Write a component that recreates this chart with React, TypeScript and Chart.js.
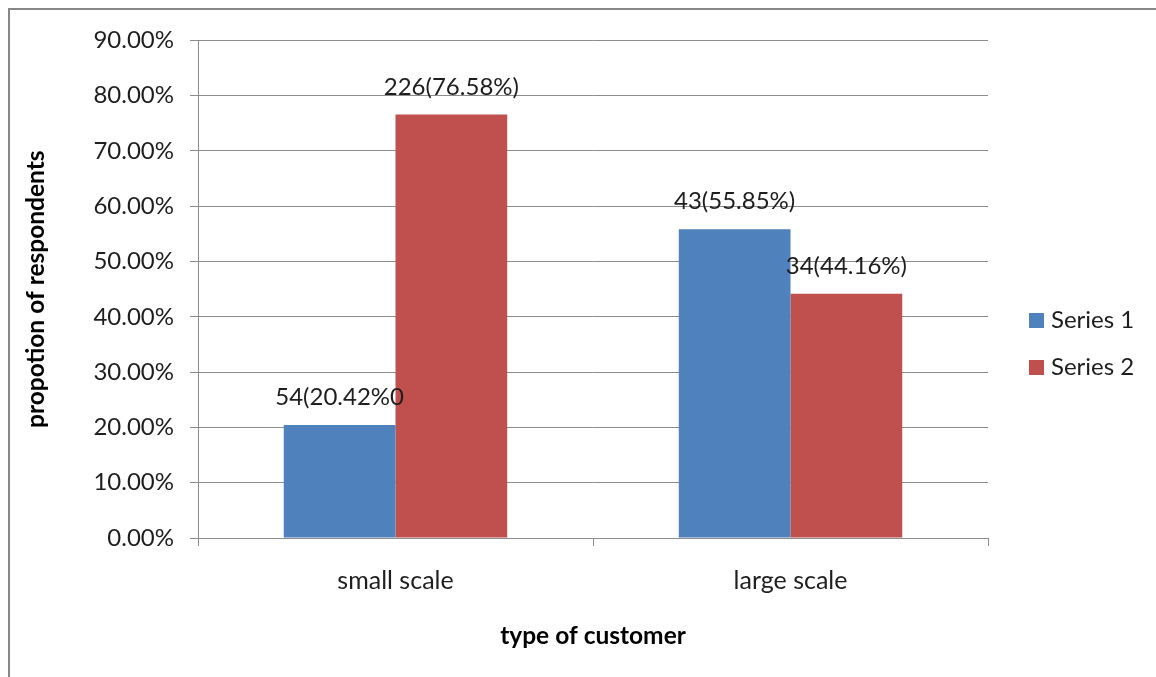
import React, { useEffect, useRef } from "react";
import { Chart, registerables } from "chart.js";

Chart.register(...registerables);

const categories = ["small scale", "large scale"];
const seriesNames = ["Series 1", "Series 2"];
const series1 = [20.42, 55.85];
const series2 = [76.58, 44.16];
const labels1 = ["54(20.42%0", "43(55.85%)"];
const labels2 = ["226(76.58%)", "34(44.16%)"];
const yMin = 0;
const yMax = 90;
const yStep = 10;
const xTitle = "type of customer";
const yTitle = "propotion of respondents";

const FONT = "Lato";
const TEXT = "#1e1e1e";
const GRID = "#8c8c8c";

const dataLabelPlugin = {
  id: "dataLabels",
  afterDatasetsDraw(chart: any) {
    const ctx = chart.ctx;
    const all = [labels1, labels2];
    ctx.save();
    ctx.font = `24px ${FONT}`;
    ctx.fillStyle = TEXT;
    ctx.textAlign = "center";
    ctx.textBaseline = "middle";
    chart.data.datasets.forEach((ds: any, di: number) => {
      const meta = chart.getDatasetMeta(di);
      meta.data.forEach((bar: any, i: number) => {
        ctx.fillText(all[di][i], bar.x, bar.y - 27.5);
      });
    });
    ctx.restore();
  },
};

const legendPlugin = {
  id: "customLegend",
  afterDraw(chart: any) {
    const ctx = chart.ctx;
    const ca = chart.chartArea;
    const x0 = ca.right + 41;
    const cy = chart.height / 2;
    const gap = 47;
    ctx.save();
    ctx.font = `24px ${FONT}`;
    ctx.textAlign = "left";
    ctx.textBaseline = "middle";
    chart.data.datasets.forEach((ds: any, i: number) => {
      const y = cy - gap / 2 + i * gap;
      ctx.fillStyle = ds.backgroundColor;
      ctx.fillRect(x0, y - 7, 15, 15);
      ctx.fillStyle = TEXT;
      ctx.fillText(ds.label, x0 + 22, y);
    });
    ctx.restore();
  },
};

export default function App() {
  const ref = useRef<HTMLCanvasElement | null>(null);
  useEffect(() => {
    if (!ref.current) return;
    const chart = new Chart(ref.current, {
      type: "bar",
      data: {
        labels: categories,
        datasets: [
          { label: seriesNames[0], data: series1, backgroundColor: "#4F81BD", categoryPercentage: 0.5657, barPercentage: 1 },
          { label: seriesNames[1], data: series2, backgroundColor: "#C0504D", categoryPercentage: 0.5657, barPercentage: 1 },
        ],
      },
      options: {
        animation: false,
        responsive: true,
        maintainAspectRatio: false,
        layout: { padding: { top: 29, right: 168, left: 0, bottom: 0 } },
        plugins: { legend: { display: false }, tooltip: { enabled: false } },
        scales: {
          x: {
            offset: true,
            grid: { offset: true, drawOnChartArea: false, drawTicks: true, tickLength: 8, color: GRID, lineWidth: 1 },
            border: { display: true, color: GRID, width: 1 },
            ticks: { color: TEXT, font: { family: FONT, size: 25 }, padding: 20, maxRotation: 0 },
            title: { display: true, text: xTitle, color: "#000", font: { family: FONT, size: 24.5, weight: "bold" }, padding: { top: 0, bottom: 26 } },
            afterFit(scale: any) { scale.height = 139; },
          },
          y: {
            min: yMin,
            max: yMax,
            grid: { color: GRID, lineWidth: 1, tickLength: 8, drawTicks: true },
            border: { display: true, color: GRID, width: 1 },
            ticks: {
              stepSize: yStep,
              color: TEXT,
              font: { family: FONT, size: 24 },
              padding: 16,
              callback: (v: any) => Number(v).toFixed(2) + "%",
            },
            title: { display: true, text: yTitle, color: "#000", font: { family: FONT, size: 24.5, weight: "bold" }, padding: { top: 11, bottom: 0 } },
            afterFit(scale: any) { scale.width = 188; },
          },
        },
      },
      plugins: [dataLabelPlugin, legendPlugin],
    });
    return () => chart.destroy();
  }, []);

  return (
    <div
      style={{
        position: "fixed",
        left: 8,
        top: 8,
        right: 0,
        bottom: 0,
        borderLeft: "2px solid #878787",
        borderTop: "2px solid #878787",
        background: "#fff",
      }}
    >
      <div style={{ position: "absolute", left: 0, top: 0, width: 1146, height: 667 }}>
        <canvas ref={ref} />
      </div>
    </div>
  );
}
